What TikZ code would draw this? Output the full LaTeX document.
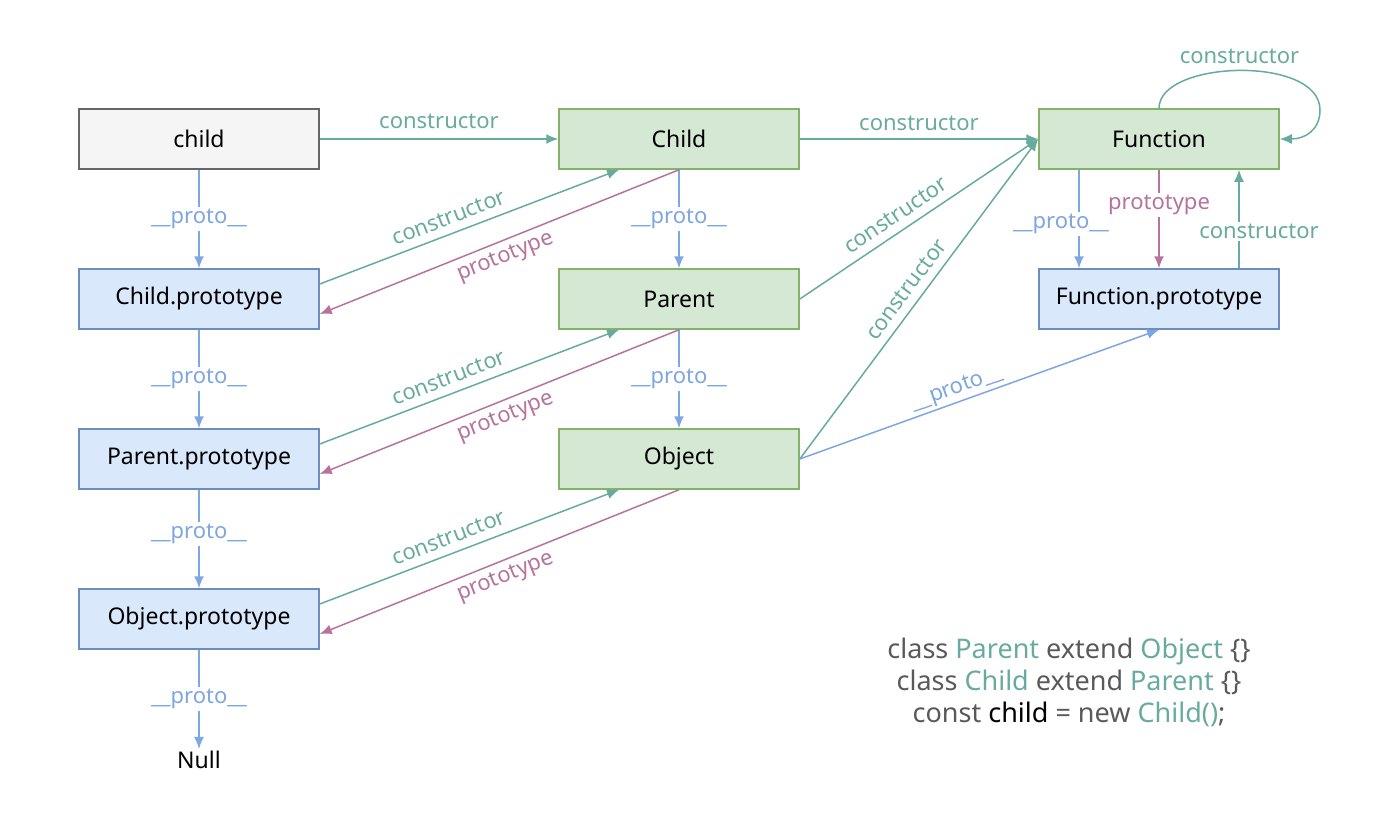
\documentclass[tikz,border=0pt]{standalone}
\usepackage{fontspec}
\usetikzlibrary{arrows.meta}
\setmainfont{Noto Sans}
\definecolor{ctorgreen}{HTML}{67AB9F}
\definecolor{protopurple}{HTML}{B5739D}
\definecolor{protoblue}{HTML}{7EA6E0}
\definecolor{codegray}{HTML}{595959}
\tikzset{
  box/.style={draw, line width=1.5pt, minimum width=240pt, minimum height=60pt, inner sep=0pt, font=\fontsize{23}{26}\selectfont},
  inst/.style={box, draw=black!60, fill=black!4},
  cls/.style={box, draw={rgb,255:red,130;green,179;blue,102}, fill={rgb,255:red,213;green,232;blue,212}},
  pro/.style={box, draw={rgb,255:red,108;green,142;blue,191}, fill={rgb,255:red,218;green,232;blue,252}},
  tip/.style={-{Latex[length=12pt,width=10pt]}},
  ctor/.style={draw=ctorgreen, line width=1.5pt, tip, text=ctorgreen},
  protoline/.style={draw=protopurple, line width=1.5pt, tip, text=protopurple},
  link/.style={draw=protoblue, line width=1.5pt, tip, text=protoblue},
  lbl/.style={font=\fontsize{22}{26}\selectfont, inner sep=2pt},
  cut/.style={lbl, fill=white}
}
\begin{document}
\begin{tikzpicture}[x=1pt, y=-1pt]
  \useasboundingbox (0,0) rectangle (1394,828);

  \node[inst] (ch) at (199,139) {child};
  \node[cls] (CH) at (679,139) {Child};
  \node[cls] (FN) at (1159,139) {Function};
  \node[pro] (CP) at (199,299) {Child.prototype};
  \node[cls] (PA) at (679,299) {Parent};
  \node[pro] (FP) at (1159,299) {Function.prototype};
  \node[pro] (PP) at (199,459) {Parent.prototype};
  \node[cls] (OB) at (679,459) {Object};
  \node[pro] (OP) at (199,619) {Object.prototype};
  \node[font=\fontsize{23}{26}\selectfont, inner sep=2pt] (NU) at (199,760) {Null};

  \draw[ctor] (ch) -- node[lbl, above=8pt] {constructor} (CH);
  \draw[ctor] (CH) -- node[lbl, above=6pt] {constructor} (FN);
  \draw[ctor] (FN.north) .. controls (1159,60) and (1320,55) .. node[lbl, above=4pt] {constructor} (1320,110)
    .. controls (1320,130) and (1305,139) .. (FN.east);

  \draw[link] (ch) -- node[cut] {\_\_proto\_\_} (CP);
  \draw[link] (CP) -- node[cut] {\_\_proto\_\_} (PP);
  \draw[link] (PP) -- node[cut, pos=0.45] {\_\_proto\_\_} (OP);
  \draw[link] (OP) -- node[cut] {\_\_proto\_\_} (NU);
  \draw[link] (CH) -- node[cut] {\_\_proto\_\_} (PA);
  \draw[link] (PA) -- node[cut] {\_\_proto\_\_} (OB);

  \draw[ctor] ([yshift=15pt]CP.east) -- node[lbl, sloped, above=6pt, pos=0.45] {constructor} ([xshift=-60pt]CH.south);
  \draw[protoline] (CH.south) -- node[lbl, sloped, below=4pt, pos=0.5] {prototype} ([yshift=-15pt]CP.east);
  \draw[ctor] ([yshift=15pt]PP.east) -- node[lbl, sloped, above=6pt, pos=0.45] {constructor} ([xshift=-60pt]PA.south);
  \draw[protoline] (PA.south) -- node[lbl, sloped, below=4pt, pos=0.5] {prototype} ([yshift=-15pt]PP.east);
  \draw[ctor] ([yshift=15pt]OP.east) -- node[lbl, sloped, above=6pt, pos=0.45] {constructor} ([xshift=-60pt]OB.south);
  \draw[protoline] (OB.south) -- node[lbl, sloped, below=4pt, pos=0.5] {prototype} ([yshift=-15pt]OP.east);

  \draw[ctor] (PA.east) -- node[lbl, sloped, above=6pt, pos=0.44] {constructor} (FN.west);
  \draw[ctor] (OB.east) -- node[lbl, sloped, above=6pt, pos=0.5] {constructor} (FN.west);
  \draw[link] (OB.east) -- node[lbl, sloped, above=0pt, pos=0.45] {\_\_proto\_\_} (FP.south);

  \draw[link] ([xshift=-80pt]FN.south) -- node[cut, xshift=-18pt, pos=0.55] {\_\_proto\_\_} ([xshift=-80pt]FP.north);
  \draw[protoline] (FN.south) -- node[cut, pos=0.36] {prototype} (FP.north);
  \draw[ctor] ([xshift=80pt]FP.north) -- node[cut, xshift=20pt, pos=0.37] {constructor} ([xshift=80pt]FN.south);

  \node[font=\fontsize{27}{32}\selectfont, text=codegray, align=center] (CODE) at (1069,682)
    {class \textcolor{ctorgreen}{Parent} extend \textcolor{ctorgreen}{Object} \{\}\\
     class \textcolor{ctorgreen}{Child} extend \textcolor{ctorgreen}{Parent} \{\}\\
     const \textcolor{black}{child} = new \textcolor{ctorgreen}{Child()};};
\end{tikzpicture}
\end{document}
